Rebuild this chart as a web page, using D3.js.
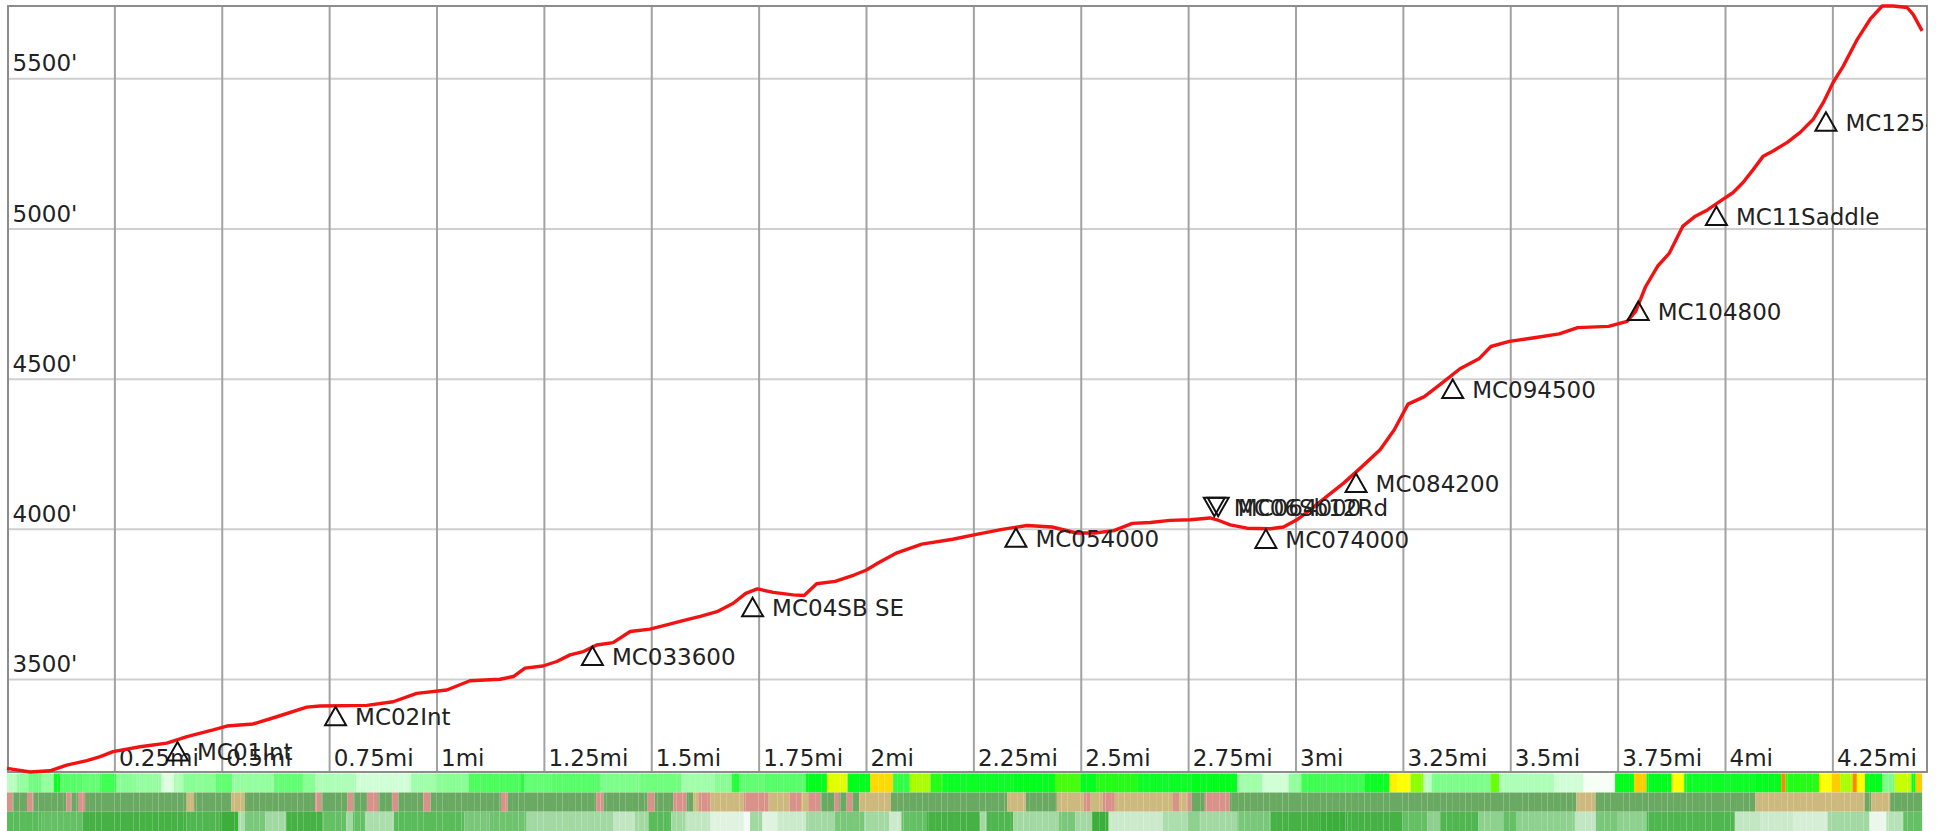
<!DOCTYPE html>
<html>
<head>
<meta charset="utf-8">
<title>Elevation profile</title>
<script src="https://d3js.org/d3.v7.min.js"></script>
<style>
  html, body { margin: 0; padding: 0; background: #fff; overflow: hidden; }
  svg { display: block; font-family: "DejaVu Sans", sans-serif; }
  .grid-x line { stroke: #a2a2a2; stroke-width: 2; }
  .grid-y line { stroke: #cfcfcf; stroke-width: 2; }
  .tick text, .wp-label { font-size: 23px; fill: #222; font-family: "DejaVu Sans", sans-serif; }
</style>
</head>
<body>
<svg width="1940" height="831"></svg>
<script>
// elevation track (miles, feet)
const distMi = [0.000, 0.054, 0.100, 0.139, 0.186, 0.217, 0.247, 0.310, 0.372, 0.419, 0.480, 0.512, 0.573, 0.628, 0.698, 0.729, 0.838, 0.899, 0.954, 1.024,
  1.078, 1.148, 1.179, 1.206, 1.248, 1.280, 1.311, 1.342, 1.373, 1.411, 1.451, 1.497, 1.536, 1.574, 1.614, 1.653, 1.691, 1.720, 1.747, 1.784,
  1.830, 1.856, 1.885, 1.928, 1.972, 2.000, 2.029, 2.072, 2.130, 2.202, 2.260, 2.317, 2.375, 2.433, 2.490, 2.533, 2.577, 2.620, 2.662, 2.708,
  2.755, 2.801, 2.817, 2.848, 2.887, 2.941, 2.972, 3.003, 3.034, 3.073, 3.112, 3.151, 3.197, 3.230, 3.262, 3.285, 3.300, 3.340, 3.383, 3.427,
  3.455, 3.498, 3.556, 3.614, 3.657, 3.729, 3.772, 3.792, 3.815, 3.844, 3.870, 3.902, 3.931, 3.959, 3.989, 4.019, 4.042, 4.066, 4.089, 4.112,
  4.145, 4.175, 4.205, 4.229, 4.252, 4.275, 4.308, 4.338, 4.366, 4.392, 4.424, 4.438, 4.459];
const elevFt = [3202, 3190, 3194, 3213, 3228, 3241, 3258, 3274, 3286, 3308, 3330, 3343, 3350, 3374, 3406, 3410, 3412, 3424, 3452, 3463,
  3494, 3499, 3508, 3536, 3543, 3558, 3580, 3591, 3613, 3621, 3658, 3666, 3680, 3694, 3708, 3724, 3752, 3785, 3800, 3788,
  3780, 3778, 3817, 3825, 3846, 3862, 3887, 3920, 3949, 3965, 3982, 3998, 4011, 4006, 3986, 3986, 3994, 4018, 4021, 4028,
  4030, 4036, 4030, 4013, 4002, 4000, 4006, 4030, 4063, 4108, 4152, 4202, 4263, 4330, 4415, 4430, 4440, 4484, 4533, 4566,
  4607, 4624, 4636, 4649, 4670, 4674, 4691, 4724, 4806, 4876, 4917, 5008, 5041, 5062, 5091, 5120, 5153, 5197, 5241, 5258,
  5287, 5320, 5363, 5420, 5487, 5540, 5630, 5697, 5741, 5741, 5736, 5713, 5658];
const maxMi = 4.4703;

const xTicks = [0.25, 0.5, 0.75, 1, 1.25, 1.5, 1.75, 2, 2.25, 2.5, 2.75, 3, 3.25, 3.5, 3.75, 4, 4.25];
const yTicks = [3500, 4000, 4500, 5000, 5500];

// waypoints
const wpName = ["MC01Int", "MC02Int", "MC033600", "MC04SB SE", "MC054000", "MC06Sb12Rd", "MC064000", "MC074000",
  "MC084200", "MC094500", "MC104800", "MC11Saddle", "MC125400"];
const wpMi = [0.397, 0.765, 1.363, 1.736, 2.349, 2.811, 2.820, 2.931, 3.141, 3.366, 3.798, 3.980, 4.235];
const wpFt = [3290, 3407, 3608, 3770, 4002, 4042, 4042, 3998, 4184, 4497, 4757, 5073, 5387];
const wpDir = ["up", "up", "up", "up", "up", "down", "down", "up", "up", "up", "up", "up", "up"];

// band 1: slope colour value (run start mile, value)
const slopeStart = [0.000, 0.023, 0.051, 0.081, 0.109, 0.124, 0.177, 0.216, 0.254, 0.302, 0.360, 0.389, 0.409, 0.486, 0.525, 0.621, 0.689, 0.718, 0.814, 0.940,
  0.997, 1.075, 1.195, 1.205, 1.268, 1.384, 1.474, 1.571, 1.648, 1.687, 1.706, 1.764, 1.860, 1.909, 1.957, 2.010, 2.063, 2.102, 2.150, 2.179,
  2.343, 2.440, 2.498, 2.536, 2.633, 2.758, 2.864, 2.922, 2.984, 3.013, 3.160, 3.219, 3.238, 3.268, 3.298, 3.317, 3.454, 3.474, 3.602, 3.670,
  3.744, 3.788, 3.817, 3.876, 3.905, 4.072, 4.131, 4.141, 4.219, 4.248, 4.268, 4.297, 4.307, 4.326, 4.366, 4.395, 4.434, 4.444];
const slopeVal = [2.5, 4, 5.5, 4, 9.5, 6.5, 6, 7.5, 4.5, 4, 1, 3, 4.5, 6, 4, 6, 4.5, 3, 1.5, 3.5,
  4.5, 7, 8.5, 6, 6.5, 5, 5.5, 3.5, 4.5, 8.5, 6, 6.5, 10, 13.5, 10, 15.5, 8, 12.5, 10.5, 9.5,
  10, 11, 10, 10.5, 9.5, 10, 3.5, 1.5, 4, 7.5, 9.5, 14.5, 14, 12, 2.5, 5, 11.5, 3, 1.5, 0,
  10, 16, 10, 14, 9.5, 10, 20, 10.5, 14, 16, 12.5, 20, 14, 10, 5, 13, 10, 16];

// band 2: surface type (g = green, r = red, t = tan)
const surfStart = [0.000, 0.0129, 0.0467, 0.0612, 0.1384, 0.150, 0.1654, 0.1818, 0.4183, 0.4357, 0.5226, 0.5535, 0.7176, 0.732, 0.793, 0.8064, 0.8383, 0.8643, 0.8962, 0.9106,
  0.9686, 0.986, 1.150, 1.1656, 1.372, 1.3886, 1.4916, 1.508, 1.5515, 1.582, 1.5977, 1.6112, 1.638, 1.7155, 1.7734, 1.8217, 1.8487, 1.8651, 1.894, 1.9259,
  1.9375, 1.9549, 1.9684, 1.9838, 2.0582, 2.3285, 2.3719, 2.4443, 2.507, 2.5215, 2.5505, 2.5794, 2.7146, 2.729, 2.7464, 2.758, 2.7889, 2.8468, 3.654, 3.6985,
  4.0709, 4.3257, 4.3404, 4.3845];
const surfType = ["r", "g", "r", "g", "r", "g", "r", "g", "t", "g", "t", "g", "r", "g", "r", "g", "r", "g", "r", "g",
  "r", "g", "r", "g", "r", "g", "r", "g", "r", "g", "t", "r", "t", "r", "t", "r", "t", "r", "g", "r",
  "g", "r", "g", "t", "g", "t", "g", "t", "r", "t", "r", "t", "r", "t", "r", "g", "r", "g", "t", "g",
  "t", "g", "t", "g"];

// band 3: cover shade value
const coverStart = [0.000, 0.081, 0.177, 0.418, 0.4955, 0.539, 0.5535, 0.6018, 0.650, 0.737, 0.790, 0.805, 0.8334, 0.9011, 1.0651, 1.123, 1.210, 1.4127, 1.4610, 1.4935,
  1.5466, 1.5804, 1.638, 1.7155, 1.730, 1.759, 1.7928, 1.8604, 1.9279, 1.9955, 2.0535, 2.0824, 2.1403, 2.2658, 2.2803, 2.343, 2.4492, 2.4878, 2.5264, 2.565,
  2.6905, 2.7485, 2.7774, 2.8643, 2.9415, 3.0527, 3.1213, 3.2487, 3.3075, 3.3369, 3.4251, 3.4839, 3.5133, 3.6505, 3.6995, 3.7485, 3.8171, 4.0229, 4.0817, 4.1601,
  4.2385, 4.3365, 4.3757, 4.4149];
const coverVal = [7.5, 7, 8.5, 8, 9, 3.5, 6, 4, 8.5, 7, 4, 7, 3.5, 7.5, 6, 6.5, 4, 2.5, 4, 7.5,
  4, 2.5, 1, 0, 4, 1, 2, 4, 6, 4, 2, 7, 8.5, 4, 8, 4, 6, 4, 9, 2,
  3.5, 5, 4, 6, 8.5, 9, 8.5, 7, 5, 8, 5, 7, 5, 2.5, 6, 5, 8, 2.5, 2, 1.5,
  4, 0.5, 3, 7];
const bandEnd = 4.459;

// layout
const pLeft = 8, pTop = 6, pRight = 1927, pBottom = 772;
const bandRows = [[773.5, 792.5], [792.5, 811.7], [811.7, 831]];
const segStep = 0.0147; // track segment length used for the band cells

const svg = d3.select("svg");

const x = d3.scaleLinear().domain([0, maxMi]).range([7, pRight]);
const y = d3.scaleLinear().domain(d3.extent(elevFt)).range([pBottom, pTop]);

const slopeColor = d3.scaleLinear()
  .domain([0, 10, 12, 14, 16, 20])
  .range(["#f6fff6", "#00ff1a", "#8cff00", "#ffff00", "#ffcc00", "#ff8800"])
  .clamp(true);
const surfColor = { g: "#69a962", r: "#d9928a", t: "#cdb97d" };
const coverColor = d3.scaleLinear().domain([0, 10]).range(["#f4fbf4", "#27a527"]);

svg.append("defs").append("clipPath").attr("id", "plot-clip")
  .append("rect").attr("x", pLeft).attr("y", pTop).attr("width", pRight - pLeft).attr("height", pBottom - pTop);

// grid + tick labels
const gy = svg.append("g")
  .attr("class", "grid-y")
  .attr("transform", `translate(${pLeft},0)`)
  .call(d3.axisLeft(y).tickValues(yTicks).tickSize(-(pRight - pLeft)).tickFormat(d => d + "'"));
gy.select(".domain").remove();
gy.selectAll("text").attr("x", 4.5).attr("y", -7.5).attr("dy", 0).style("text-anchor", "start");

const gx = svg.append("g")
  .attr("class", "grid-x")
  .attr("transform", `translate(0,${pBottom})`)
  .call(d3.axisBottom(x).tickValues(xTicks).tickSize(-(pBottom - pTop)).tickFormat(d => d + "mi"));
gx.select(".domain").remove();
gx.selectAll("text").attr("x", 4).attr("y", -6.5).attr("dy", 0).style("text-anchor", "start");

// frame
svg.append("rect")
  .attr("x", pLeft).attr("y", pTop)
  .attr("width", pRight - pLeft).attr("height", pBottom - pTop)
  .attr("fill", "none").attr("stroke", "#8c8c8c").attr("stroke-width", 2);

// bands: each run is cut into track-segment cells so the thin seams show
function cells(starts, vals) {
  const out = [];
  starts.forEach((s, i) => {
    const e = i + 1 < starts.length ? starts[i + 1] : bandEnd;
    let a = s;
    let k = Math.floor(s / segStep) + 1;
    while (k * segStep < e - 1e-6) {
      out.push({ s: a, e: k * segStep, v: vals[i] });
      a = k * segStep;
      k++;
    }
    out.push({ s: a, e: e, v: vals[i] });
  });
  return out;
}
const bandData = [
  { rows: cells(slopeStart, slopeVal), color: v => slopeColor(v) },
  { rows: cells(surfStart, surfType), color: v => surfColor[v] },
  { rows: cells(coverStart, coverVal), color: v => coverColor(v) }
];
bandData.forEach((b, i) => {
  svg.append("g").selectAll("rect")
    .data(b.rows)
    .enter().append("rect")
    .attr("x", d => x(d.s))
    .attr("width", d => x(d.e) - x(d.s))
    .attr("y", bandRows[i][0])
    .attr("height", bandRows[i][1] - bandRows[i][0])
    .attr("fill", d => b.color(d.v));
});

// profile line
const track = distMi.map((d, i) => ({ mi: d, ft: elevFt[i] }));
svg.append("path")
  .datum(track)
  .attr("fill", "none")
  .attr("stroke", "#f21212")
  .attr("stroke-width", 3.4)
  .attr("stroke-linejoin", "round")
  .attr("d", d3.line().x(d => x(d.mi)).y(d => y(d.ft)));

// waypoints
const wps = wpName.map((n, i) => ({ name: n, mi: wpMi[i], ft: wpFt[i], dir: wpDir[i] }));
const wg = svg.append("g").attr("clip-path", "url(#plot-clip)");
const tri = 18.5, half = 10.5;
wg.selectAll("path")
  .data(wps)
  .enter().append("path")
  .attr("fill", "none")
  .attr("stroke", "#111")
  .attr("stroke-width", 2)
  .attr("d", d => {
    const cx = x(d.mi), cy = y(d.ft);
    const s = d.dir === "up" ? 1 : -1;
    return `M${cx},${cy}L${cx - half},${cy + s * tri}L${cx + half},${cy + s * tri}Z`;
  });
wg.selectAll("text")
  .data(wps)
  .enter().append("text")
  .attr("class", "wp-label")
  .attr("x", d => x(d.mi) + 19.5)
  .attr("y", d => d.dir === "up" ? y(d.ft) + tri : y(d.ft))
  .text(d => d.name);
</script>
</body>
</html>
